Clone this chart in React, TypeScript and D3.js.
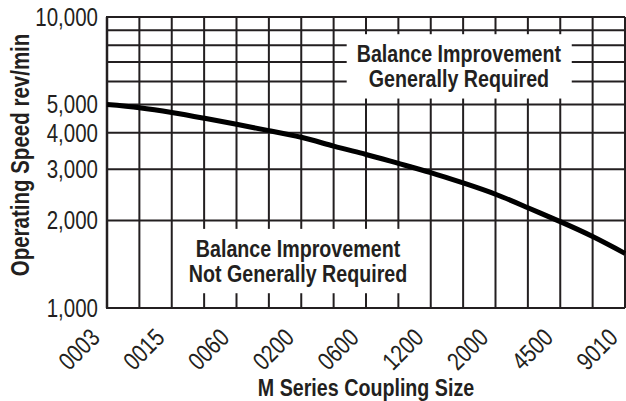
import { useEffect, useRef } from 'react';
import * as d3 from 'd3';

// M series coupling sizes (labels sit on every second grid column)
const sizeLabels = ['0003', '0015', '0060', '0200', '0600', '1200', '2000', '4500', '9010'];
// operating speed limit (rev/min) read at each vertical grid line, 17 of them
const speedLimit = [5000, 4880, 4700, 4490, 4280, 4070, 3860, 3600, 3370, 3140, 2920, 2690, 2460, 2210, 1980, 1760, 1540];
const yTickValues = [1000, 2000, 3000, 4000, 5000, 10000];
const yGridValues = [1000, 2000, 3000, 4000, 5000, 6000, 7000, 8000, 9000, 10000];
const upperNote = ['Balance Improvement', 'Generally Required'];
const lowerNote = ['Balance Improvement', 'Not Generally Required'];

// no narrow face installed, so squeeze Liberation Sans sideways instead
const FONT = "'Liberation Sans', Arial, sans-serif";
const SQUEEZE = 0.82;
const INK = '#231f20';

const App = () => {
  const svgRef = useRef<SVGSVGElement>(null);

  useEffect(() => {
    const width = 626;
    const height = 401;
    const margin = { top: 17, right: 1, bottom: 93, left: 107 };

    const svg = d3.select(svgRef.current)
      .attr('width', width)
      .attr('height', height);
    svg.selectAll('*').remove();

    const steps = speedLimit.length - 1;

    const x = d3.scaleLinear()
      .domain([0, steps])
      .range([margin.left, width - margin.right]);

    const y = d3.scaleLog()
      .domain([1000, 10000])
      .range([height - margin.bottom, margin.top]);

    // text in a group that is moved/rotated, then squeezed along its own x
    function label(px: number, py: number, rot = 0) {
      return svg.append('g')
        .attr('transform', `translate(${px}, ${py}) rotate(${rot}) scale(${SQUEEZE}, 1)`)
        .append('text')
        .attr('font-family', FONT)
        .attr('fill', INK);
    }

    const grid = svg.append('g');

    // vertical grid lines
    grid.selectAll('.vgrid')
      .data(d3.range(0, steps + 1))
      .enter().append('line')
      .attr('class', 'vgrid')
      .attr('x1', d => x(d))
      .attr('x2', d => x(d))
      .attr('y1', y(10000))
      .attr('y2', y(1000))
      .attr('stroke', INK)
      .attr('stroke-width', (d) => (d === 0 ? 2.5 : 2));

    // horizontal grid lines
    grid.selectAll('.hgrid')
      .data(yGridValues)
      .enter().append('line')
      .attr('class', 'hgrid')
      .attr('x1', x(0) - 1)
      .attr('x2', x(steps))
      .attr('y1', d => y(d))
      .attr('y2', d => y(d))
      .attr('stroke', INK)
      .attr('stroke-width', 2);

    // y tick labels
    yTickValues.forEach(v => {
      label(x(0) - 9, y(v))
        .attr('dy', '0.35em')
        .attr('text-anchor', 'end')
        .attr('font-size', 25)
        .text(d3.format(',')(v));
    });

    // x tick labels, rotated
    sizeLabels.forEach((s, i) => {
      label(x(i * 2) - 12, y(1000) + 25, -45)
        .attr('dy', '0.35em')
        .attr('text-anchor', 'end')
        .attr('font-size', 25)
        .text(s);
    });

    // axis titles
    label((x(0) + x(steps)) / 2, 396)
      .attr('text-anchor', 'middle')
      .attr('font-weight', 'bold')
      .attr('font-size', 24)
      .text('M Series Coupling Size');

    label(29, y(1000) - 153, -90)
      .attr('text-anchor', 'middle')
      .attr('font-weight', 'bold')
      .attr('font-size', 25)
      .text('Operating Speed rev/min');

    // annotation boxes: white patch behind two-line bold text
    function addNote(lines: string[], cx: number, baseValue: number) {
      const g = svg.append('g')
        .attr('transform', `translate(${x(cx)}, ${y(baseValue)}) scale(${SQUEEZE}, 1)`);
      const rect = g.append('rect').attr('fill', '#fff');
      const txt = g.append('text')
        .attr('font-family', FONT)
        .attr('font-weight', 'bold')
        .attr('font-size', 24)
        .attr('fill', INK)
        .attr('text-anchor', 'middle');
      lines.forEach((l, i) => {
        txt.append('tspan')
          .attr('x', 0)
          .attr('y', i * 25)
          .text(l);
      });
      const bb = (txt.node() as SVGTextElement).getBBox();
      const padX = 10 / SQUEEZE;
      rect
        .attr('x', bb.x - padX)
        .attr('y', bb.y - 6)
        .attr('width', bb.width + padX * 2)
        .attr('height', bb.height + 12);
    }

    addNote(upperNote, 10.87, 7000);
    addNote(lowerNote, 5.9, 1500);

    // the limit curve
    const line = d3.line<number>()
      .x((_, i) => x(i))
      .y(d => y(d))
      .curve(d3.curveNatural);

    svg.append('path')
      .datum(speedLimit)
      .attr('fill', 'none')
      .attr('stroke', '#000')
      .attr('stroke-width', 5)
      .attr('d', line);
  }, []);

  return (
    <div style={{ position: 'absolute', left: 0, top: 0 }}>
      <svg ref={svgRef} style={{ display: 'block', background: '#fff' }} />
    </div>
  );
};

export default App;
